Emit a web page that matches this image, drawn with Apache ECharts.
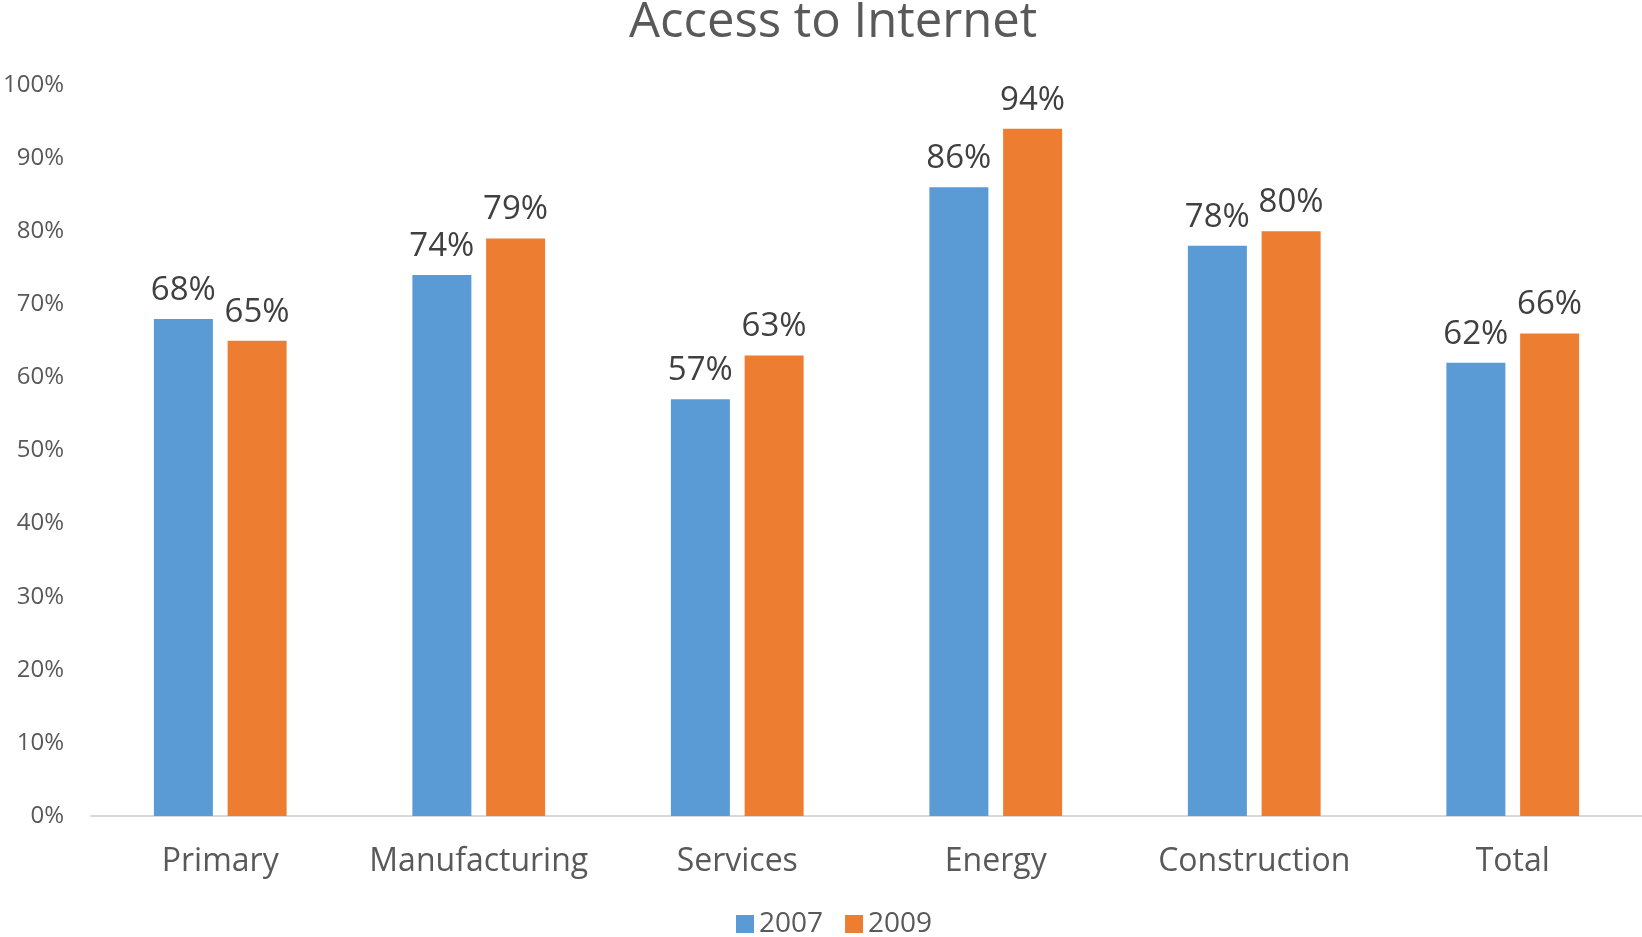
<!DOCTYPE html>
<html>
<head>
<meta charset="utf-8">
<script src="https://cdn.jsdelivr.net/npm/echarts@6/dist/echarts.min.js"></script>
<style>
  html, body { margin: 0; padding: 0; background: #fff; }
  #chart { width: 1642px; height: 937px; }
</style>
</head>
<body>
<div id="chart"></div>
<script>
// Sectors and internet access shares (%) per survey year
const categories = ['Primary', 'Manufacturing', 'Services', 'Energy', 'Construction', 'Total'];
const values2007 = [68, 74, 57, 86, 78, 62];
const values2009 = [65, 79, 63, 94, 80, 66];
const seriesNames = ['2007', '2009'];

const FONT = '"Open Sans", "Noto Sans", sans-serif';
const chart = echarts.init(document.getElementById('chart'), null, { renderer: 'canvas' });

const labelStyle = {
  show: true,
  position: 'top',
  distance: 12,
  color: '#404040',
  fontFamily: FONT,
  fontSize: 33,
  formatter: p => p.value + '%'
};

chart.setOption({
  animation: false,
  backgroundColor: '#ffffff',
  title: {
    text: 'Access to Internet',
    left: 624,
    top: -6,
    textStyle: { color: '#595959', fontFamily: FONT, fontSize: 49, fontWeight: 'normal' }
  },
  legend: {
    data: seriesNames,
    bottom: -6,
    left: 731,
    itemWidth: 18,
    itemHeight: 18,
    itemGap: 22,
    icon: 'rect',
    textStyle: { color: '#595959', fontFamily: FONT, fontSize: 28 }
  },
  grid: { left: 90, right: 0, top: 85, bottom: 121, containLabel: false },
  xAxis: {
    type: 'category',
    data: categories,
    axisLine: { lineStyle: { color: '#d9d9d9', width: 2 } },
    axisTick: { show: false },
    axisLabel: { color: '#595959', fontFamily: FONT, fontSize: 32, margin: 30, interval: 0 }
  },
  yAxis: {
    type: 'value',
    min: 0,
    max: 100,
    interval: 10,
    splitLine: { show: false },
    axisLine: { show: false },
    axisTick: { show: false },
    axisLabel: { color: '#595959', fontFamily: FONT, fontSize: 24, margin: 27, formatter: '{value}%' }
  },
  series: [
    {
      name: seriesNames[0],
      type: 'bar',
      data: values2007,
      barWidth: 59,
      barGap: '25%',
      itemStyle: { color: '#5B9BD5' },
      label: labelStyle
    },
    {
      name: seriesNames[1],
      type: 'bar',
      data: values2009,
      barWidth: 59,
      barGap: '25%',
      itemStyle: { color: '#ED7D31' },
      label: labelStyle
    }
  ]
});
</script>
</body>
</html>
